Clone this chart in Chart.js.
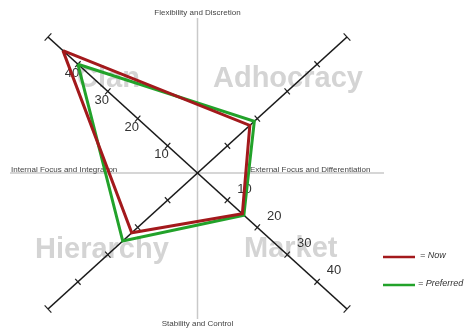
<!DOCTYPE html>
<html>
<head>
<meta charset="utf-8">
<script src="https://cdn.jsdelivr.net/npm/chart.js@4/dist/chart.umd.min.js"></script>
<style>
    body { margin: 0; background: #fff; }
</style>
</head>
<body>
<canvas id="grafica" width="468" height="330"></canvas>
<script>
// Cuadrantes en orden: arriba-izq, arriba-der, abajo-der, abajo-izq
const cuadrantes = ['Clan', 'Adhocracy', 'Market', 'Hierarchy'];
const ahora = [45, 17.5, 15, 22];
const preferido = [40, 19, 15.5, 25];
const marcas = [10, 20, 30, 40];
const etiquetasMarcas = ['10', '20', '30', '40'];
const maximo = 50;
const ejes = ['Flexibility and Discretion', 'External Focus and Differentiation', 'Stability and Control', 'Internal Focus and Integration'];
const series = ['= Now', '= Preferred'];

// direccion de cada cuadrante en valores
const direcciones = [[-1, 1], [1, 1], [1, -1], [-1, -1]];

const poligono = (valores) => {
    const puntos = valores.map((v, i) => ({ x: direcciones[i][0] * v, y: direcciones[i][1] * v }));
    puntos.push(puntos[0]);
    return puntos;
};

const linea = (color, datos, ancho) => ({
    data: datos,
    showLine: true,
    borderColor: color,
    borderWidth: ancho,
    pointRadius: 0,
    fill: false,
    tension: 0
});

const fondo = {
    id: 'fondo',
    beforeDatasetsDraw(chart) {
        const { ctx, scales: { x, y } } = chart;
        const cx = x.getPixelForValue(0);
        const cy = y.getPixelForValue(0);
        ctx.save();

        // lineas grises
        ctx.strokeStyle = '#c9c9c9';
        ctx.lineWidth = 1.5;
        ctx.beginPath();
        ctx.moveTo(cx, 18);
        ctx.lineTo(cx, 319);
        ctx.moveTo(10, cy);
        ctx.lineTo(384, cy);
        ctx.stroke();

        // nombres de los cuadrantes
        ctx.fillStyle = '#d4d4d4';
        ctx.font = 'bold 29px "Liberation Sans", Arial, sans-serif';
        ctx.textBaseline = 'alphabetic';
        ctx.textAlign = 'left';
        ctx.fillText(cuadrantes[0], 77, 87);
        ctx.fillText(cuadrantes[1], 213, 87);
        ctx.fillText(cuadrantes[2], 244, 257);
        ctx.fillText(cuadrantes[3], 35, 258);

        // textos de los ejes
        ctx.fillStyle = '#444';
        ctx.font = '8px "Liberation Sans", Arial, sans-serif';
        ctx.textBaseline = 'middle';
        ctx.textAlign = 'center';
        ctx.fillText(ejes[0], cx, 13);
        ctx.fillText(ejes[2], cx, 324);
        ctx.textAlign = 'left';
        ctx.fillText(ejes[3], 11, cy - 3);
        ctx.fillText(ejes[1], 250, cy - 3);

        // marcas perpendiculares sobre los ejes diagonales
        const sx = (x.getPixelForValue(maximo) - cx) / maximo;
        const sy = (cy - y.getPixelForValue(maximo)) / maximo;
        ctx.strokeStyle = '#222';
        ctx.lineWidth = 1.2;
        direcciones.forEach(([dx, dy]) => {
            let px = dx * sx, py = -dy * sy;
            const l = Math.hypot(px, py);
            px /= l; py /= l;
            marcas.concat([maximo]).forEach(m => {
                const mx = x.getPixelForValue(dx * m);
                const my = y.getPixelForValue(dy * m);
                const h = m === maximo ? 5 : 4;
                ctx.beginPath();
                ctx.moveTo(mx - py * h, my + px * h);
                ctx.lineTo(mx + py * h, my - px * h);
                ctx.stroke();
            });
        });

        // numeros de las marcas
        ctx.fillStyle = '#333';
        ctx.font = '13px "Liberation Sans", Arial, sans-serif';
        ctx.textAlign = 'center';
        ctx.textBaseline = 'middle';
        marcas.forEach((m, i) => {
            const ax = x.getPixelForValue(-m), ay = y.getPixelForValue(m);
            ctx.fillText(etiquetasMarcas[i], ax - 6, ay + 9);
            const bx = x.getPixelForValue(m), by = y.getPixelForValue(-m);
            ctx.fillText(etiquetasMarcas[i], bx + 17, by - 11);
        });
        ctx.restore();
    },
    afterDraw(chart) {
        const { ctx } = chart;
        ctx.save();
        ctx.font = 'italic 9px "Liberation Sans", Arial, sans-serif';
        ctx.textBaseline = 'middle';
        ctx.textAlign = 'left';
        const filas = [255, 283];
        [0, 1].forEach(i => {
            const ds = chart.data.datasets[i];
            ctx.strokeStyle = ds.borderColor;
            ctx.lineWidth = 2.5;
            ctx.beginPath();
            ctx.moveTo(383, filas[i] + 2);
            ctx.lineTo(415, filas[i] + 2);
            ctx.stroke();
            ctx.fillStyle = '#333';
            ctx.fillText(series[i], i === 0 ? 420 : 418, filas[i]);
        });
        ctx.restore();
    }
};

const generarGrafica = () => {
    const ctx = document.getElementById('grafica').getContext('2d');
    const eje1 = [{ x: -maximo, y: maximo }, { x: maximo, y: -maximo }];
    const eje2 = [{ x: maximo, y: maximo }, { x: -maximo, y: -maximo }];
    new Chart(ctx, {
        type: 'scatter',
        data: {
            datasets: [
                linea('#a3191c', poligono(ahora), 3),
                linea('#22a22a', poligono(preferido), 3),
                linea('#1a1a1a', eje1, 1.5),
                linea('#1a1a1a', eje2, 1.5)
            ]
        },
        options: {
            responsive: false,
            animation: false,
            devicePixelRatio: 1,
            layout: { padding: { left: 48, right: 121, top: 37, bottom: 21 } },
            plugins: { legend: { display: false }, tooltip: { enabled: false } },
            scales: {
                x: { type: 'linear', min: -maximo, max: maximo, display: false },
                y: { type: 'linear', min: -maximo, max: maximo, display: false }
            }
        },
        plugins: [fondo]
    });
};

window.onload = generarGrafica;
</script>
</body>
</html>
